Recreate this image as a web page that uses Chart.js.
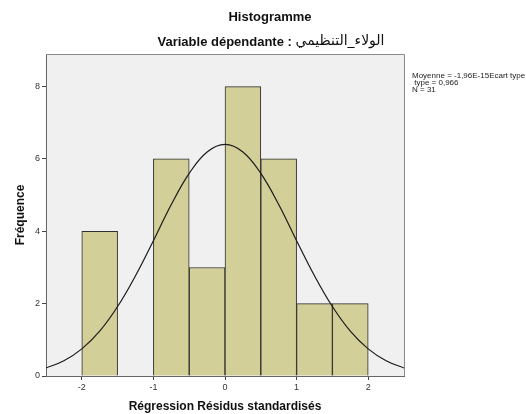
<!DOCTYPE html>
<html>
<head>
<meta charset="utf-8">
<script src="https://cdn.jsdelivr.net/npm/chart.js@4"></script>
<style>
html,body{margin:0;padding:0;background:#fff;}
#wrap{position:relative;width:526px;height:414px;}
</style>
</head>
<body>
<div id="wrap"><canvas id="c" width="526" height="414"></canvas></div>
<script>
// ---- data ----
const binCenters = [-1.75, -1.25, -0.75, -0.25, 0.25, 0.75, 1.25, 1.75];
const frequencies = [4, 0, 6, 3, 8, 6, 2, 2];
const curveX = [-2.5, -2.25, -2.0, -1.75, -1.5, -1.25, -1.0, -0.75, -0.5, -0.25, 0, 0.25, 0.5, 0.75, 1.0, 1.25, 1.5, 1.75, 2.0, 2.25, 2.5];
const curveY = [0.22, 0.42, 0.75, 1.24, 1.92, 2.77, 3.74, 4.74, 5.60, 6.19, 6.40, 6.19, 5.60, 4.74, 3.74, 2.77, 1.92, 1.24, 0.75, 0.42, 0.22];
const xTickValues = [-2, -1, 0, 1, 2];
const yTickValues = [0, 2, 4, 6, 8];
const titleText = "Histogramme";
const subtitleLatin = "Variable dépendante : ";
const subtitleArabic = "الولاء_التنظيمي";
const xTitle = "Régression Résidus standardisés";
const yTitle = "Fréquence";
const statsLines = ["Moyenne = -1,96E-15Ecart type", " type = 0,966", "N = 31"];

const FONT = "'Liberation Sans', Arial, 'DejaVu Sans', sans-serif";

const framePlugin = {
  id: 'frame',
  beforeDraw(chart) {
    const {ctx, chartArea: a} = chart;
    ctx.save();
    ctx.fillStyle = '#f0f0f0';
    ctx.fillRect(a.left, a.top, a.right - a.left, a.bottom - a.top);
    ctx.restore();
  },
  afterDraw(chart) {
    const {ctx, chartArea: a} = chart;
    ctx.save();
    ctx.strokeStyle = '#8a8a8a';
    ctx.lineWidth = 1;
    ctx.beginPath();
    ctx.moveTo(a.left, a.top + 0.5);
    ctx.lineTo(a.right + 0.5, a.top + 0.5);
    ctx.lineTo(a.right + 0.5, a.bottom);
    ctx.stroke();
    // titles
    ctx.fillStyle = '#111';
    ctx.textBaseline = 'middle';
    ctx.textAlign = 'center';
    ctx.font = "bold 13px " + FONT;
    ctx.fillText(titleText, 270, 17);
    // subtitle: latin bold + arabic regular
    ctx.textAlign = 'left';
    const latinFont = "bold 13px " + FONT;
    const arabicFont = "14px 'DejaVu Sans', sans-serif";
    ctx.font = latinFont;
    const wL = ctx.measureText(subtitleLatin).width;
    ctx.font = arabicFont;
    const wA = ctx.measureText(subtitleArabic).width;
    const x0 = 271 - (wL + wA) / 2;
    ctx.font = latinFont;
    ctx.fillText(subtitleLatin, x0, 42);
    ctx.font = arabicFont;
    ctx.fillText(subtitleArabic, x0 + wL, 41);
    // stats text
    ctx.font = "8px " + FONT;
    ctx.fillStyle = '#222';
    statsLines.forEach((s, i) => ctx.fillText(s, 412, 76 + i * 7));
    ctx.restore();
  }
};

new Chart(document.getElementById('c'), {
  type: 'bar',
  data: {
    datasets: [
      {
        type: 'line',
        data: curveX.map((x, i) => ({x: x, y: curveY[i]})),
        borderColor: '#1a1a1a',
        borderWidth: 1.2,
        pointRadius: 0,
        tension: 0.4,
        fill: false,
        order: 0
      },
      {
        type: 'bar',
        data: binCenters.map((x, i) => ({x: x, y: frequencies[i]})),
        backgroundColor: 'rgb(211,207,152)',
        borderColor: '#2e2e2e',
        borderWidth: 1,
        barPercentage: 1.0,
        categoryPercentage: 1.0,
        order: 1
      }
    ]
  },
  options: {
    responsive: false,
    animation: false,
    layout: {padding: {top: 54, right: 122, left: 0, bottom: 0}},
    plugins: {legend: {display: false}, tooltip: {enabled: false}, title: {display: false}},
    scales: {
      x: {
        type: 'linear',
        offset: false,
        min: -2.5, max: 2.5,
        afterBuildTicks: s => { s.ticks = xTickValues.map(v => ({value: v})); },
        afterFit: s => { s.height = 38; },
        grid: {offset: false, drawOnChartArea: false, drawTicks: true, tickLength: 4, color: '#444'},
        border: {display: true, color: '#666', width: 1},
        ticks: {color: '#333', font: {size: 9, family: FONT}, padding: 2, maxRotation: 0},
        title: {display: true, text: xTitle, color: '#111', font: {size: 12, weight: 'bold', family: FONT}, padding: {top: 0, bottom: 0}}
      },
      y: {
        type: 'linear',
        min: 0, max: 8.9,
        afterBuildTicks: s => { s.ticks = yTickValues.map(v => ({value: v})); },
        afterFit: s => { s.width = 46; },
        grid: {drawOnChartArea: false, drawTicks: true, tickLength: 4, color: '#444'},
        border: {display: true, color: '#666', width: 1},
        ticks: {color: '#333', font: {size: 9, family: FONT}, padding: 2},
        title: {display: true, text: yTitle, color: '#111', font: {size: 12, weight: 'bold', family: FONT}, padding: {top: 13, bottom: 0}}
      }
    }
  },
  plugins: [framePlugin]
});
</script>
</body>
</html>
